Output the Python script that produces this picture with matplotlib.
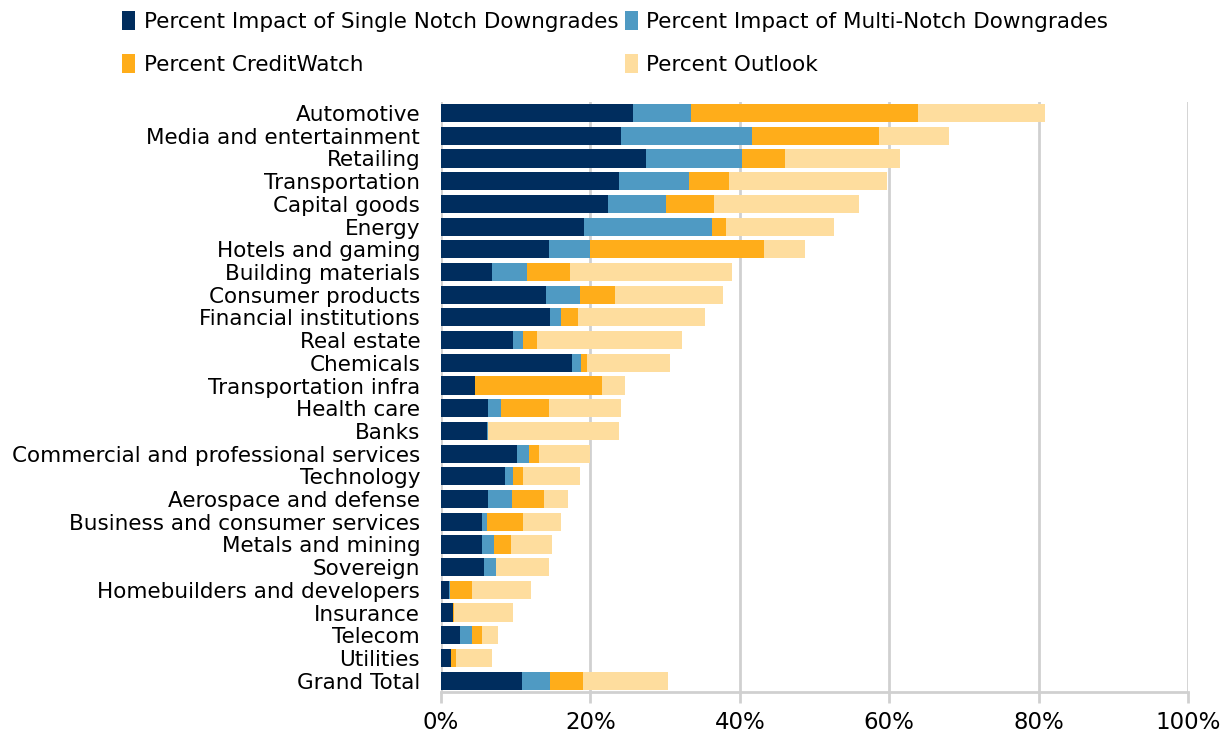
import numpy as np
import matplotlib.pyplot as plt
from matplotlib.ticker import PercentFormatter

# sectors, top to bottom
sectors = ["Automotive", "Media and entertainment", "Retailing", "Transportation",
           "Capital goods", "Energy", "Hotels and gaming", "Building materials",
           "Consumer products", "Financial institutions", "Real estate", "Chemicals",
           "Transportation infra", "Health care", "Banks",
           "Commercial and professional services", "Technology",
           "Aerospace and defense", "Business and consumer services",
           "Metals and mining", "Sovereign", "Homebuilders and developers",
           "Insurance", "Telecom", "Utilities", "Grand Total"]

single_notch = [25.7, 24.1, 27.5, 23.8, 22.3, 19.1, 14.4, 6.8, 14.1, 14.6, 9.7, 17.6,
                4.5, 6.3, 6.1, 10.2, 8.6, 6.3, 5.5, 5.5, 5.8, 1.1, 1.6, 2.6, 1.3, 10.8]
multi_notch = [7.8, 17.5, 12.8, 9.4, 7.8, 17.2, 5.5, 4.7, 4.5, 1.4, 1.3, 1.2,
               0.0, 1.8, 0.2, 1.6, 1.1, 3.2, 0.6, 1.6, 1.5, 0.1, 0.0, 1.6, 0.0, 3.8]
creditwatch = [30.4, 17.0, 5.8, 5.3, 6.5, 1.9, 23.3, 5.8, 4.7, 2.3, 1.8, 0.8,
               17.0, 6.3, 0.0, 1.3, 1.3, 4.3, 4.9, 2.3, 0.0, 3.0, 0.2, 1.3, 0.7, 4.4]
outlook = [17.0, 9.4, 15.4, 21.2, 19.4, 14.4, 5.5, 21.7, 14.4, 17.0, 19.4, 11.0,
           3.1, 9.7, 17.5, 6.8, 7.6, 3.2, 5.0, 5.5, 7.1, 7.8, 7.9, 2.1, 4.8, 11.4]

series = [
    ("Percent Impact of Single Notch Downgrades", single_notch, "#002d5e"),
    ("Percent Impact of Multi-Notch Downgrades", multi_notch, "#4f9ac3"),
    ("Percent CreditWatch", creditwatch, "#ffad1a"),
    ("Percent Outlook", outlook, "#fedd9e"),
]

plt.rcParams['font.family'] = ['DejaVu Sans']

fig = plt.figure(figsize=(12.26, 7.37), dpi=100)
ax = fig.add_axes([0.3597, 0.061, 0.6093, 0.801])

y = np.arange(len(sectors))
left = np.zeros(len(sectors))
bars = []
for name, vals, col in series:
    vals = np.array(vals)
    b = ax.barh(y, vals, left=left, height=0.8, color=col, label=name, zorder=3)
    bars.append(b)
    left += vals

ax.set_ylim(len(sectors) - 0.5, -0.5)
ax.set_xlim(0, 100)
ax.set_yticks(y)
ax.set_yticklabels(sectors, fontsize=15.5)
ax.set_xticks([0, 20, 40, 60, 80, 100])
ax.xaxis.set_major_formatter(PercentFormatter(decimals=0))
ax.tick_params(axis='x', labelsize=16.5, length=8, width=2, color="#d0d0d0", pad=6)
ax.tick_params(axis='y', length=0, pad=15)
ax.grid(axis='x', color="#d0d0d0", linewidth=2, zorder=0)
for s in ['top', 'right', 'left']:
    ax.spines[s].set_visible(False)
ax.spines['bottom'].set_color("#d0d0d0")
ax.spines['bottom'].set_linewidth(2)

# legend fills column-wise, so reorder to get two entries per row
order = [0, 2, 1, 3]
fig.legend([bars[i] for i in order], [series[i][0] for i in order],
           ncol=2, loc='upper left', bbox_to_anchor=(0.084, 1.012),
           frameon=False, fontsize=15.5, handlelength=0.6, handleheight=1.0,
           handletextpad=0.4, columnspacing=0.3, labelspacing=1.05)

fig.savefig("out.png", dpi=100)
